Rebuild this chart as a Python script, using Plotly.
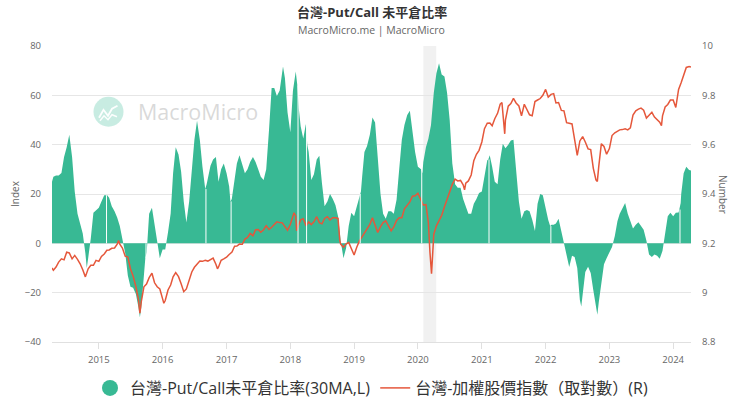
import plotly.graph_objects as go

# ---------------- data ----------------
pc_dates = [
    "2014-04-08", "2014-04-16", "2014-05-01", "2014-05-16", "2014-06-01", "2014-06-16", "2014-07-01", "2014-07-16",
    "2014-08-01", "2014-08-16", "2014-09-01", "2014-09-16", "2014-10-01", "2014-10-16", "2014-10-24", "2014-11-01",
    "2014-11-16", "2014-12-01", "2014-12-16", "2015-01-01", "2015-01-16", "2015-02-01", "2015-02-10", "2015-02-14",
    "2015-02-18", "2015-03-01", "2015-03-16", "2015-04-01", "2015-04-16", "2015-05-01", "2015-05-16", "2015-06-01",
    "2015-06-16", "2015-07-01", "2015-07-16", "2015-08-01", "2015-08-16", "2015-08-24", "2015-09-01", "2015-09-16",
    "2015-09-24", "2015-09-28", "2015-10-02", "2015-10-16", "2015-11-01", "2015-11-16", "2015-12-01", "2015-12-16",
    "2016-01-01", "2016-01-16", "2016-02-01", "2016-02-16", "2016-03-01", "2016-03-16", "2016-04-01", "2016-04-16",
    "2016-05-01", "2016-05-16", "2016-06-01", "2016-06-16", "2016-07-01", "2016-07-16", "2016-08-01", "2016-08-16",
    "2016-09-01", "2016-09-05", "2016-09-09", "2016-09-16", "2016-10-01", "2016-10-16", "2016-11-01", "2016-11-16",
    "2016-12-01", "2016-12-16", "2017-01-01", "2017-01-16", "2017-01-23", "2017-01-27", "2017-01-31", "2017-02-16",
    "2017-03-01", "2017-03-16", "2017-04-01", "2017-04-16", "2017-05-01", "2017-05-16", "2017-06-01", "2017-06-16",
    "2017-07-01", "2017-07-16", "2017-08-01", "2017-08-16", "2017-09-01", "2017-09-16", "2017-10-01", "2017-10-16",
    "2017-11-01", "2017-11-16", "2017-11-20", "2017-12-01", "2017-12-16", "2018-01-01", "2018-01-16", "2018-02-01",
    "2018-02-10", "2018-02-14", "2018-02-18", "2018-03-01", "2018-03-16", "2018-03-31", "2018-04-04", "2018-04-08",
    "2018-04-16", "2018-05-01", "2018-05-16", "2018-06-01", "2018-06-16", "2018-07-01", "2018-07-16", "2018-08-01",
    "2018-08-16", "2018-09-01", "2018-09-16", "2018-10-01", "2018-10-16", "2018-11-01", "2018-11-16", "2018-12-01",
    "2018-12-16", "2019-01-01", "2019-01-16", "2019-02-01", "2019-02-05", "2019-02-09", "2019-02-16", "2019-03-01",
    "2019-03-16", "2019-04-01", "2019-04-16", "2019-05-01", "2019-05-16", "2019-06-01", "2019-06-16", "2019-07-01",
    "2019-07-16", "2019-08-01", "2019-08-16", "2019-09-01", "2019-09-16", "2019-10-01", "2019-10-16", "2019-11-01",
    "2019-11-16", "2019-12-01", "2019-12-16", "2020-01-01", "2020-01-16", "2020-01-19", "2020-01-23", "2020-01-27",
    "2020-02-01", "2020-02-16", "2020-03-01", "2020-03-16", "2020-04-01", "2020-04-16", "2020-05-01", "2020-05-16",
    "2020-06-01", "2020-06-16", "2020-07-01", "2020-07-16", "2020-08-01", "2020-08-16", "2020-09-01", "2020-09-16",
    "2020-10-01", "2020-10-16", "2020-11-01", "2020-11-16", "2020-12-01", "2020-12-16", "2021-01-01", "2021-01-16",
    "2021-02-01", "2021-02-07", "2021-02-11", "2021-02-15", "2021-03-01", "2021-03-16", "2021-04-01", "2021-04-16",
    "2021-05-01", "2021-05-16", "2021-06-01", "2021-06-16", "2021-07-01", "2021-07-16", "2021-08-01", "2021-08-16",
    "2021-09-01", "2021-09-16", "2021-10-01", "2021-10-16", "2021-11-01", "2021-11-16", "2021-12-01", "2021-12-16",
    "2022-01-01", "2022-01-16", "2022-01-27", "2022-01-31", "2022-02-04", "2022-02-16", "2022-03-01", "2022-03-16",
    "2022-04-01", "2022-04-16", "2022-05-01", "2022-05-16", "2022-06-01", "2022-06-16", "2022-07-01", "2022-07-16",
    "2022-07-24", "2022-08-01", "2022-08-16", "2022-09-01", "2022-09-16", "2022-10-01", "2022-10-16", "2022-10-24",
    "2022-11-01", "2022-11-16", "2022-12-01", "2022-12-16", "2023-01-01", "2023-01-16", "2023-02-01", "2023-02-16",
    "2023-03-01", "2023-03-16", "2023-04-01", "2023-04-16", "2023-05-01", "2023-05-16", "2023-06-01", "2023-06-16",
    "2023-07-01", "2023-07-16", "2023-08-01", "2023-08-16", "2023-09-01", "2023-09-16", "2023-10-01", "2023-10-16",
    "2023-11-01", "2023-11-16", "2023-12-01", "2023-12-16", "2024-01-01", "2024-01-16", "2024-02-01", "2024-02-05",
    "2024-02-09", "2024-02-13", "2024-02-16", "2024-03-01", "2024-03-16", "2024-04-01", "2024-04-12",
]
pc_values = [
    25, 27, 27.5, 27.5, 28.5, 35, 39, 44,
    35, 21, 12, 8, 4, -4, -10, -6,
    2, 12.4, 13.5, 14.4, 17, 19.5, 19.5, None,
    19.5, 18.5, 15, 13, 10.5, 7, 1, -4,
    -13, -17.6, -18, -20.5, -26, -30, -26, -15,
    -6, None, -3.6, 12, 14.4, 8, 0, -6,
    -2.5, -2.5, 4.5, 12, 28.4, 39, 36, 29,
    17, 8.4, 17, 31, 42, 49.7, 42, 31,
    22, None, 24, 26.5, 31.5, 34, 35, 25,
    30, 32.4, 28.4, 23, 17, None, 18, 26,
    32.4, 35.7, 32, 28.4, 30, 33, 35, 33,
    30, 27, 25.7, 30, 46, 63, 63, 59.7,
    62, 69, 71.7, 67, 53, 45, 62, 69.7,
    64, None, 55, 47.5, 42.5, 48.4, None, 40,
    37, 25.7, 28, 34, 35.5, 24.4, 15, 17,
    20, 18, 15.5, 11, 1, -6, -2, 7,
    12.4, 11, 15, 20, None, 21, 27, 37,
    39.5, 44, 51, 49, 35, 20, 12, 10,
    13, 13, 12, 17.7, 30, 42, 48, 52,
    53.7, 44, 37, 31, 30, 30, None, 28.4,
    33, 39, 42.4, 48, 61, 69, 73, 68.4,
    67.6, 61, 50, 32.4, 24, 22.5, 22.5, 18,
    15, 12, 12, 16, 18, 20.4, 21, 26.5,
    33.7, 34, None, 35.7, 31, 25, 24, 34,
    40.4, 38.5, 40, 41.7, 42, 28.4, 17, 10,
    13, 13.5, 13, 9.7, 5, 16, 20, 19.5,
    14, 9.5, 7, None, 7.5, 7.5, 8, 10,
    5, -0.5, -5, -9.6, -5, -5.5, -10, -23,
    -25.6, -21, -11.6, -9.5, -12, -19, -25, -29,
    -24, -16, -8.5, -6, -3.6, -1.5, 3, 9,
    12, 14, 16.4, 12, 9, 6, 7.5, 8.5,
    7, 5.5, 1, -4.5, -5.5, -4.5, -5, -6.3,
    -3, 5, 11, 12.4, 11, 12.4, 12.5, 13.7,
    None, 16.4, 20, 28.4, 31, 29.7, 29.5,
]

tw_dates = [
    "2014-04-08", "2014-04-16", "2014-05-01", "2014-05-16", "2014-06-01", "2014-06-16", "2014-07-01", "2014-07-16",
    "2014-08-01", "2014-08-16", "2014-09-01", "2014-09-16", "2014-10-01", "2014-10-16", "2014-11-01", "2014-11-16",
    "2014-12-01", "2014-12-16", "2015-01-01", "2015-01-16", "2015-02-01", "2015-02-16", "2015-03-01", "2015-03-16",
    "2015-04-01", "2015-04-16", "2015-04-24", "2015-05-01", "2015-05-16", "2015-06-01", "2015-06-16", "2015-07-01",
    "2015-07-16", "2015-08-01", "2015-08-16", "2015-08-24", "2015-09-01", "2015-09-16", "2015-10-01", "2015-10-16",
    "2015-11-01", "2015-11-16", "2015-12-01", "2015-12-16", "2016-01-01", "2016-01-08", "2016-01-16", "2016-02-01",
    "2016-02-16", "2016-03-01", "2016-03-16", "2016-04-01", "2016-04-16", "2016-05-01", "2016-05-16", "2016-06-01",
    "2016-06-16", "2016-07-01", "2016-07-16", "2016-08-01", "2016-08-16", "2016-09-01", "2016-09-16", "2016-10-01",
    "2016-10-16", "2016-11-01", "2016-11-10", "2016-11-16", "2016-12-01", "2016-12-16", "2017-01-01", "2017-01-16",
    "2017-02-01", "2017-02-16", "2017-03-01", "2017-03-16", "2017-04-01", "2017-04-16", "2017-05-01", "2017-05-16",
    "2017-06-01", "2017-06-16", "2017-07-01", "2017-07-16", "2017-08-01", "2017-08-16", "2017-09-01", "2017-09-16",
    "2017-10-01", "2017-10-16", "2017-11-01", "2017-11-16", "2017-12-01", "2017-12-16", "2018-01-01", "2018-01-16",
    "2018-01-22", "2018-02-01", "2018-02-06", "2018-02-16", "2018-03-01", "2018-03-16", "2018-04-01", "2018-04-16",
    "2018-05-01", "2018-05-16", "2018-06-01", "2018-06-16", "2018-07-01", "2018-07-16", "2018-08-01", "2018-08-16",
    "2018-09-01", "2018-09-16", "2018-10-01", "2018-10-11", "2018-10-16", "2018-11-01", "2018-11-16", "2018-12-01",
    "2018-12-16", "2019-01-01", "2019-01-16", "2019-02-01", "2019-02-16", "2019-03-01", "2019-03-16", "2019-04-01",
    "2019-04-16", "2019-05-01", "2019-05-16", "2019-06-01", "2019-06-16", "2019-07-01", "2019-07-16", "2019-08-01",
    "2019-08-16", "2019-09-01", "2019-09-16", "2019-10-01", "2019-10-16", "2019-11-01", "2019-11-16", "2019-12-01",
    "2019-12-16", "2020-01-01", "2020-01-16", "2020-02-01", "2020-02-16", "2020-03-01", "2020-03-10", "2020-03-19",
    "2020-03-24", "2020-04-01", "2020-04-16", "2020-05-01", "2020-05-16", "2020-06-01", "2020-06-16", "2020-07-01",
    "2020-07-16", "2020-08-01", "2020-08-16", "2020-09-01", "2020-09-16", "2020-09-24", "2020-10-01", "2020-10-16",
    "2020-11-01", "2020-11-16", "2020-12-01", "2020-12-16", "2021-01-01", "2021-01-16", "2021-02-01", "2021-02-16",
    "2021-03-01", "2021-03-16", "2021-04-01", "2021-04-16", "2021-04-26", "2021-05-12", "2021-05-16", "2021-06-01",
    "2021-06-16", "2021-07-01", "2021-07-16", "2021-08-01", "2021-08-16", "2021-09-01", "2021-09-16", "2021-10-01",
    "2021-10-16", "2021-11-01", "2021-11-16", "2021-12-01", "2021-12-16", "2022-01-01", "2022-01-16", "2022-02-01",
    "2022-02-16", "2022-03-01", "2022-03-16", "2022-04-01", "2022-04-16", "2022-05-01", "2022-05-16", "2022-06-01",
    "2022-06-16", "2022-07-01", "2022-07-16", "2022-08-01", "2022-08-16", "2022-09-01", "2022-09-16", "2022-10-01",
    "2022-10-16", "2022-10-24", "2022-11-01", "2022-11-16", "2022-12-01", "2022-12-16", "2023-01-01", "2023-01-16",
    "2023-02-01", "2023-02-16", "2023-03-01", "2023-03-16", "2023-04-01", "2023-04-16", "2023-05-01", "2023-05-16",
    "2023-06-01", "2023-06-16", "2023-07-01", "2023-07-16", "2023-08-01", "2023-08-16", "2023-09-01", "2023-09-16",
    "2023-10-01", "2023-10-16", "2023-10-26", "2023-11-01", "2023-11-16", "2023-12-01", "2023-12-16", "2024-01-01",
    "2024-01-16", "2024-02-01", "2024-02-16", "2024-03-01", "2024-03-16", "2024-04-01", "2024-04-12",
]
tw_values = [
    9.100, 9.091, 9.104, 9.124, 9.137, 9.133, 9.164, 9.161,
    9.137, 9.151, 9.135, 9.117, 9.093, 9.064, 9.097, 9.111,
    9.111, 9.131, 9.127, 9.147, 9.157, 9.172, 9.173, 9.180,
    9.181, 9.197, 9.211, 9.197, 9.181, 9.148, 9.144, 9.097,
    9.068, 9.025, 8.971, 8.917, 8.964, 9.024, 9.035, 9.061,
    9.079, 9.040, 9.024, 9.015, 8.975, 8.957, 8.968, 9.011,
    9.031, 9.064, 9.081, 9.065, 9.036, 9.004, 9.015, 9.055,
    9.084, 9.103, 9.117, 9.128, 9.127, 9.131, 9.128, 9.133,
    9.140, 9.115, 9.097, 9.104, 9.131, 9.137, 9.144, 9.155,
    9.165, 9.188, 9.189, 9.197, 9.196, 9.217, 9.224, 9.240,
    9.231, 9.255, 9.256, 9.245, 9.255, 9.271, 9.256, 9.265,
    9.276, 9.287, 9.284, 9.283, 9.268, 9.253, 9.277, 9.311,
    9.324, 9.311, 9.251, 9.273, 9.295, 9.300, 9.271, 9.287,
    9.276, 9.287, 9.308, 9.284, 9.279, 9.301, 9.308, 9.295,
    9.304, 9.304, 9.301, 9.211, 9.197, 9.184, 9.197, 9.204,
    9.177, 9.153, 9.184, 9.211, 9.227, 9.241, 9.261, 9.277,
    9.304, 9.271, 9.244, 9.268, 9.284, 9.291, 9.271, 9.251,
    9.267, 9.293, 9.304, 9.304, 9.340, 9.356, 9.368, 9.391,
    9.393, 9.403, 9.381, 9.355, 9.357, 9.284, 9.164, 9.077,
    9.137, 9.237, 9.271, 9.293, 9.313, 9.348, 9.377, 9.404,
    9.439, 9.460, 9.453, 9.455, 9.437, 9.417, 9.444, 9.453,
    9.477, 9.535, 9.561, 9.577, 9.611, 9.665, 9.687, 9.688,
    9.677, 9.705, 9.727, 9.764, 9.771, 9.644, 9.700, 9.756,
    9.767, 9.788, 9.769, 9.757, 9.717, 9.764, 9.745, 9.721,
    9.717, 9.775, 9.781, 9.787, 9.800, 9.824, 9.793, 9.804,
    9.807, 9.769, 9.771, 9.739, 9.737, 9.689, 9.687, 9.684,
    9.620, 9.557, 9.615, 9.633, 9.611, 9.583, 9.580, 9.504,
    9.457, 9.451, 9.511, 9.604, 9.593, 9.561, 9.584, 9.637,
    9.648, 9.656, 9.660, 9.661, 9.664, 9.660, 9.668, 9.720,
    9.737, 9.744, 9.748, 9.740, 9.708, 9.719, 9.731, 9.712,
    9.700, 9.691, 9.677, 9.717, 9.753, 9.763, 9.781, 9.781,
    9.751, 9.824, 9.852, 9.884, 9.913, 9.917, 9.915,
]

recession_start = "2020-02-01"
recession_end = "2020-04-15"
x_range = ["2014-04-08", "2024-04-12"]
left_ticks = [-40, -20, 0, 20, 40, 60, 80]
right_ticks = [8.8, 9.0, 9.2, 9.4, 9.6, 9.8, 10.0]
right_labels = ["8.8", "9", "9.2", "9.4", "9.6", "9.8", "10"]
year_ticks = [f"{y}-01-01" for y in range(2015, 2025)]
year_labels = [str(y) for y in range(2015, 2025)]

title_text = "<b>台灣-Put/Call 未平倉比率</b>"
subtitle_text = "MacroMicro.me | MacroMicro"
name_pc = "台灣-Put/Call未平倉比率(30MA,L)"
name_tw = "台灣-加權股價指數（取對數）(R)"

# ---------------- style ----------------
GREEN = "#38b994"
RED = "#e5573b"
FONT = "Open Sans, Noto Sans CJK TC, sans-serif"
W, H = 740, 416
ML, MR, MT, MB = 52, 49, 46, 73
PW, PH = W - ML - MR, H - MT - MB


def px(x):
    return (x - ML) / PW


def py(y):
    return (H - MB - y) / PH


fig = go.Figure()
fig.add_trace(go.Scatter(
    x=pc_dates, y=pc_values, mode="lines", line=dict(width=0, color=GREEN),
    fill="tozeroy", fillcolor=GREEN, connectgaps=True, showlegend=False,
    hoverinfo="skip", yaxis="y",
))
fig.add_trace(go.Scatter(
    x=[None], y=[None], mode="markers", marker=dict(color=GREEN, size=16),
    name=name_pc, yaxis="y",
))
fig.add_trace(go.Scatter(
    x=tw_dates, y=tw_values, mode="lines", line=dict(width=1.5, color=RED),
    name=name_tw, yaxis="y2", hoverinfo="skip",
))

# missing-data days (holidays) show as thin white gaps in the area
for i, v in enumerate(pc_values):
    if v is None:
        neighbour = pc_values[i - 1]
        fig.add_shape(type="line", xref="x", yref="y", x0=pc_dates[i], x1=pc_dates[i],
                      y0=0, y1=neighbour, line=dict(color="white", width=1), layer="above")

fig.add_shape(type="rect", xref="x", yref="paper", x0=recession_start, x1=recession_end,
              y0=0, y1=1, fillcolor="rgba(0,0,0,0.055)", line=dict(width=0), layer="below")

# watermark
fig.add_shape(type="circle", xref="paper", yref="paper",
              x0=px(93.5), x1=px(123.5), y0=py(127), y1=py(97),
              fillcolor="rgba(59,187,150,0.28)", line=dict(width=0), layer="above")
fig.add_shape(type="path", xref="paper", yref="paper",
              path=f"M {px(99)} {py(118)} L {px(103.5)} {py(110)} L {px(108)} {py(116)} L {px(112)} {py(109)} L {px(117.5)} {py(106)}",
              line=dict(color="rgba(255,255,255,0.95)", width=1.8), layer="above")
fig.add_shape(type="path", xref="paper", yref="paper",
              path=f"M {px(100)} {py(121)} L {px(104)} {py(116)} L {px(108)} {py(120)} L {px(112)} {py(115)} L {px(117)} {py(117)}",
              line=dict(color="rgba(255,255,255,0.95)", width=1.5), layer="above")

annotations = [
    dict(text=title_text, x=0.5, xref="paper", xanchor="center", y=py(12), yref="paper", yanchor="middle",
         showarrow=False, font=dict(family=FONT, size=13, color="#333333")),
    dict(text=subtitle_text, x=0.5, xref="paper", xanchor="center", y=py(30), yref="paper", yanchor="middle",
         showarrow=False, font=dict(family=FONT, size=10.5, color="#666666")),
    dict(text="Index", x=px(15), xref="paper", xanchor="center", y=0.5, yref="paper", yanchor="middle",
         textangle=-90, showarrow=False, font=dict(family=FONT, size=10, color="#666666")),
    dict(text="Number", x=px(723), xref="paper", xanchor="center", y=0.5, yref="paper", yanchor="middle",
         textangle=90, showarrow=False, font=dict(family=FONT, size=10, color="#666666")),
    dict(text="MacroMicro", x=px(198), xref="paper", xanchor="center", y=py(112), yref="paper", yanchor="middle",
         showarrow=False, font=dict(family=FONT, size=21.5, color="rgba(180,180,180,0.5)")),
]

fig.update_layout(
    width=W, height=H, autosize=False,
    margin=dict(l=ML, r=MR, t=MT, b=MB, pad=0),
    paper_bgcolor="white", plot_bgcolor="white",
    font=dict(family=FONT, color="#666666"),
    showlegend=True,
    legend=dict(orientation="h", x=0.5, xanchor="center", y=py(388), yanchor="middle",
                font=dict(family=FONT, size=16, color="#333333"), bgcolor="rgba(0,0,0,0)",
                itemwidth=30, tracegroupgap=0),
    annotations=annotations,
    xaxis=dict(type="date", range=x_range, tickvals=year_ticks, ticktext=year_labels,
               showgrid=False, showline=True, linecolor="#e0e0e0", linewidth=1,
               ticks="outside", ticklen=6, tickcolor="#e0e0e0", ticklabelstandoff=3,
               tickfont=dict(family=FONT, size=9.5, color="#666666"), zeroline=False,
               fixedrange=True),
    yaxis=dict(range=[-40, 80], tickvals=left_ticks, showgrid=True, gridcolor="#e6e6e6", gridwidth=1,
               zeroline=False, showline=False, ticks="", ticklabelstandoff=10,
               tickfont=dict(family=FONT, size=9.5, color="#666666")),
    yaxis2=dict(range=[8.8, 10.0], tickvals=right_ticks, ticktext=right_labels, overlaying="y", side="right",
                showgrid=False, zeroline=False, showline=False, ticks="", ticklabelstandoff=10,
                tickfont=dict(family=FONT, size=9.5, color="#666666")),
    hovermode=False,
)

fig.write_html("out.html", config={"displayModeBar": False},
               post_script="document.body.style.margin='0';")
